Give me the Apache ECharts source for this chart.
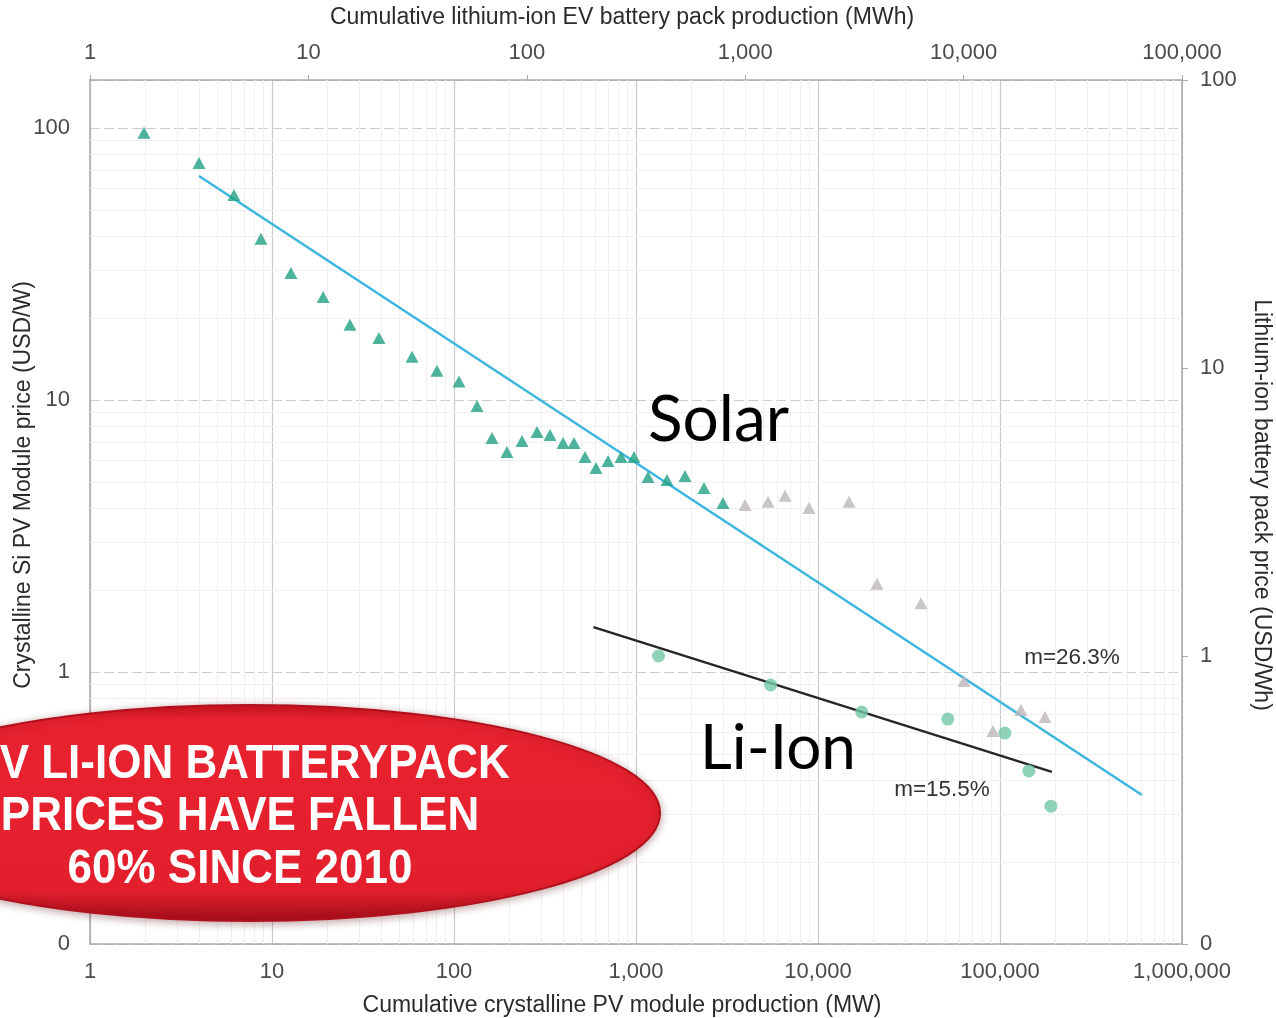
<!DOCTYPE html>
<html>
<head>
<meta charset="utf-8">
<script src="https://cdn.jsdelivr.net/npm/echarts@6/dist/echarts.min.js"></script>
<style>
  html, body { margin: 0; padding: 0; background: #ffffff; }
  #chart { width: 1276px; height: 1018px; }
</style>
</head>
<body>
<div id="chart"></div>
<script>
// Crystalline Si PV modules: cumulative production (MW) and module price (USD/W)
const pvProductionMW = [1.98, 3.97, 6.18, 8.70, 12.7, 19.1, 26.8, 38.7, 58.8, 80.6, 106.5, 133.8, 161.7, 195.5, 236.4, 285.8, 336.9, 397.2, 456.3, 524.6, 602.8, 702, 827, 975, 1164, 1480, 1859, 2364, 3006];
const pvPriceUSDperW = [95.9, 74.3, 56.7, 39.1, 29.3, 23.9, 18.9, 16.9, 14.4, 12.8, 11.7, 9.5, 7.25, 6.44, 7.07, 7.63, 7.43, 6.95, 6.95, 6.17, 5.62, 5.97, 6.17, 6.17, 5.21, 5.08, 5.25, 4.75, 4.18];

// Later PV module prices (grey markers)
const pvLateProductionMW = [3972, 5314, 6588, 8925, 14800, 21100, 36800, 63400, 91500, 130400, 176700];
const pvLatePriceUSDperW = [4.11, 4.22, 4.44, 4.01, 4.22, 2.11, 1.79, 0.927, 0.607, 0.725, 0.683];

// Li-ion EV battery packs: cumulative production (MWh) and pack price (USD/Wh)
const liionProductionMWh = [401, 1307, 3415, 8467, 15450, 19900, 25100];
const liionPriceUSDperWh = [1.0, 0.793, 0.639, 0.604, 0.540, 0.399, 0.301];

// Experience-curve fits (end points)
const pvFitProductionMW = [3.97, 602600];
const pvFitPriceUSDperW = [66.6, 0.353];
const liionFitProductionMWh = [202, 25360];
const liionFitPriceUSDperWh = [1.26, 0.396];
const learningRateLabels = ['m=26.3%', 'm=15.5%'];

// Tick labels, one per decade starting at each axis minimum
const pvProductionTicks = ['1', '10', '100', '1,000', '10,000', '100,000', '1,000,000'];
const liionProductionTicks = ['1', '10', '100', '1,000', '10,000', '100,000'];
const pvPriceTicks = ['0', '1', '10', '100'];
const liionPriceTicks = ['0', '1', '10', '100'];

// Faint minor grid lines (2..9 within each decade)
const minorSteps = [2, 3, 4, 5, 6, 7, 8, 9];
const pvProductionMinor = [];
[1, 10, 100, 1000, 10000, 100000].forEach(d => minorSteps.forEach(s => pvProductionMinor.push(d * s)));
const pvPriceMinor = [];
[0.1, 1, 10].forEach(d => minorSteps.forEach(s => pvPriceMinor.push(+(d * s).toPrecision(3))));

const zip = (xs, ys) => xs.map((x, i) => [x, ys[i]]);

function decadeLabels(labels, min) {
  return function (v) {
    const k = Math.log10(v) - Math.log10(min);
    const r = Math.round(k);
    return (Math.abs(k - r) < 1e-6 && labels[r] != null) ? labels[r] : '';
  };
}

const FONT = '"Liberation Sans", Arial, sans-serif';
const tickText = { color: '#4a4a4a', fontSize: 22, fontFamily: FONT };
const nameText = { color: '#2b2b2b', fontSize: 23, fontFamily: FONT };
const axisLineStyle = { color: '#a8a8a8', width: 1.5 };

const chart = echarts.init(document.getElementById('chart'), null, { renderer: 'canvas' });

const option = {
  backgroundColor: '#ffffff',
  animation: false,
  grid: { left: 90, right: 94, top: 80, bottom: 74, containLabel: false, outerBoundsMode: 'none' },
  xAxis: [
    {
      type: 'log', logBase: 10, min: 1, max: 1000000, position: 'bottom',
      name: 'Cumulative crystalline PV module production (MW)',
      nameLocation: 'middle', nameGap: 50,
      nameTextStyle: Object.assign({ padding: [0, 28, 0, 0] }, nameText),
      axisLine: { lineStyle: axisLineStyle },
      axisTick: { show: false },
      axisLabel: Object.assign({ margin: 17, formatter: decadeLabels(pvProductionTicks, 1) }, tickText),
      splitLine: { show: true, lineStyle: { color: '#c9c9c9', width: 1.2 } }
    },
    {
      type: 'log', logBase: 10, min: 1, max: 100000, position: 'top',
      name: 'Cumulative lithium-ion EV battery pack production (MWh)',
      nameLocation: 'middle', nameGap: 51,
      nameTextStyle: Object.assign({ padding: [0, 28, 0, 0] }, nameText),
      axisLine: { lineStyle: axisLineStyle },
      axisTick: { show: true, length: 5, lineStyle: { color: '#a8a8a8' } },
      axisLabel: Object.assign({ margin: 16, formatter: decadeLabels(liionProductionTicks, 1) }, tickText),
      splitLine: { show: false }
    }
  ],
  yAxis: [
    {
      // title drawn as a rotated text in the graphic layer below
      type: 'log', logBase: 10, min: 0.1, max: 150, position: 'left',
      axisLine: { show: true, lineStyle: axisLineStyle },
      axisTick: { show: false },
      axisLabel: Object.assign({ margin: 20, formatter: decadeLabels(pvPriceTicks, 0.1) }, tickText),
      splitLine: { show: true, lineStyle: { color: '#cccccc', width: 1.2, type: [10, 4] } }
    },
    {
      type: 'log', logBase: 10, min: 0.1, max: 100, position: 'right',
      name: 'Lithium-ion battery pack price (USD/Wh)',
      nameLocation: 'middle', nameRotate: -90, nameGap: 68,
      nameTextStyle: Object.assign({ padding: [0, 14, 0, 0] }, nameText),
      axisLine: { show: true, lineStyle: axisLineStyle },
      axisTick: { show: true, length: 6, lineStyle: { color: '#a8a8a8' } },
      axisLabel: Object.assign({ margin: 18, formatter: decadeLabels(liionPriceTicks, 0.1) }, tickText),
      splitLine: { show: false }
    }
  ],
  series: [
    {
      // minor grid
      type: 'line', xAxisIndex: 0, yAxisIndex: 0, data: [], silent: true, z: 0,
      markLine: {
        silent: true, symbol: 'none', animation: false, z: 1,
        label: { show: false },
        emphasis: { disabled: true },
        lineStyle: { color: '#f0f0f0', width: 1, type: 'solid' },
        data: pvProductionMinor.map(v => ({ xAxis: v }))
          .concat(pvPriceMinor.map(v => ({ yAxis: v })))
      }
    },
    {
      name: 'PV experience curve', type: 'line', xAxisIndex: 0, yAxisIndex: 0,
      data: zip(pvFitProductionMW, pvFitPriceUSDperW),
      showSymbol: false, silent: true, z: 3,
      lineStyle: { color: '#3cb6de', width: 2.5 }
    },
    {
      name: 'Li-ion experience curve', type: 'line', xAxisIndex: 1, yAxisIndex: 1,
      data: zip(liionFitProductionMWh, liionFitPriceUSDperWh),
      showSymbol: false, silent: true, z: 4,
      lineStyle: { color: '#262626', width: 2.5 }
    },
    {
      name: 'PV module price', type: 'scatter', xAxisIndex: 0, yAxisIndex: 0,
      data: zip(pvProductionMW, pvPriceUSDperW),
      symbol: 'triangle', symbolSize: [13, 12], z: 5,
      itemStyle: { color: '#20a084' }
    },
    {
      name: 'PV module price (later)', type: 'scatter', xAxisIndex: 0, yAxisIndex: 0,
      data: zip(pvLateProductionMW, pvLatePriceUSDperW),
      symbol: 'triangle', symbolSize: [13, 12], z: 5,
      itemStyle: { color: '#bcb7bc' }
    },
    {
      name: 'Li-ion pack price', type: 'scatter', xAxisIndex: 1, yAxisIndex: 1,
      data: zip(liionProductionMWh, liionPriceUSDperWh),
      symbol: 'circle', symbolSize: 13, z: 5,
      itemStyle: { color: '#72c8a6' }
    }
  ],
  graphic: [
    {
      type: 'text', x: 24, y: 485, rotation: Math.PI / 2, z: 50,
      style: {
        text: 'Crystalline Si PV Module price (USD/W)', fill: '#2b2b2b',
        font: '23px ' + FONT, align: 'center', verticalAlign: 'middle'
      }
    },
    {
      type: 'text', left: 648, top: 388, z: 50,
      style: { text: 'Solar', fill: '#000000', font: '64px Lato, "Open Sans", sans-serif' }
    },
    {
      type: 'text', left: 700, top: 718, z: 50,
      style: { text: 'Li-Ion', fill: '#000000', font: '62px Lato, "Open Sans", sans-serif' }
    },
    {
      type: 'text', x: 1072, y: 658, z: 50,
      style: { text: learningRateLabels[0], fill: '#333333', font: '22.5px ' + FONT, align: 'center', verticalAlign: 'middle' }
    },
    {
      type: 'text', x: 942, y: 790, z: 50,
      style: { text: learningRateLabels[1], fill: '#333333', font: '22.5px ' + FONT, align: 'center', verticalAlign: 'middle' }
    },
    {
      type: 'ellipse', z: 60,
      shape: { cx: 250, cy: 813, rx: 410, ry: 108 },
      style: {
        fill: new echarts.graphic.LinearGradient(0, 0, 0, 1, [
          { offset: 0, color: '#c8121f' },
          { offset: 0.07, color: '#e8222f' },
          { offset: 0.85, color: '#e41f2d' },
          { offset: 1, color: '#a10d1a' }
        ]),
        stroke: '#b3101e', lineWidth: 2,
        shadowBlur: 8, shadowColor: 'rgba(80,0,0,0.35)', shadowOffsetY: 2
      }
    },
    {
      type: 'text', x: 240, y: 817, z: 61, scaleY: 1.1,
      style: {
        text: 'EV LI-ION BATTERYPACK\nPRICES HAVE FALLEN\n60% SINCE 2010',
        fill: '#ffffff', font: 'bold 44px "Liberation Sans", Arial, sans-serif',
        align: 'center', verticalAlign: 'middle', lineHeight: 48
      }
    }
  ]
};

chart.setOption(option);
</script>
</body>
</html>
